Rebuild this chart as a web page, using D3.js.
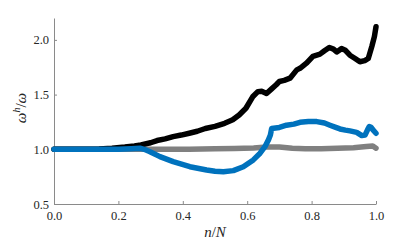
<!DOCTYPE html>
<html>
<head>
<meta charset="utf-8">
<script src="https://cdn.jsdelivr.net/npm/d3@7"></script>
<style>
  body { margin: 0; background: #fff; }
</style>
</head>
<body>
<div id="container"></div>
<script>
// values
const xTicks = [0, 0.2, 0.4, 0.6, 0.8, 1.0];
const yTicks = [0.5, 1.0, 1.5, 2.0];

const grayX = [0, 0.1, 0.2, 0.27, 0.35, 0.42, 0.5, 0.56, 0.62, 0.66, 0.7, 0.74, 0.78, 0.83, 0.88, 0.93, 0.97, 0.99, 1.0];
const grayY = [1.0, 1.0, 1.0, 1.0, 1.0, 1.0, 1.005, 1.008, 1.012, 1.02, 1.02, 1.01, 1.005, 1.006, 1.01, 1.015, 1.025, 1.03, 1.01];

const blackX = [0, 0.1, 0.14, 0.18, 0.22, 0.25, 0.27, 0.3, 0.32, 0.345, 0.37, 0.395, 0.42, 0.445, 0.47, 0.5, 0.53, 0.555, 0.575, 0.596, 0.617, 0.633, 0.645, 0.66, 0.675, 0.69, 0.70, 0.715, 0.733, 0.754, 0.764, 0.785, 0.804, 0.826, 0.84, 0.855, 0.868, 0.878, 0.893, 0.905, 0.919, 0.935, 0.95, 0.965, 0.976, 0.987, 0.995, 1.0];
const blackY = [1.0, 1.0, 1.003, 1.01, 1.02, 1.03, 1.04, 1.06, 1.08, 1.095, 1.116, 1.13, 1.147, 1.165, 1.19, 1.21, 1.238, 1.27, 1.314, 1.375, 1.48, 1.527, 1.53, 1.51, 1.55, 1.59, 1.62, 1.63, 1.65, 1.726, 1.74, 1.79, 1.85, 1.87, 1.9, 1.93, 1.915, 1.89, 1.92, 1.905, 1.86, 1.83, 1.80, 1.81, 1.83, 1.94, 2.03, 2.12];

const blueX = [0, 0.1, 0.2, 0.24, 0.267, 0.28, 0.298, 0.329, 0.37, 0.422, 0.474, 0.5, 0.526, 0.557, 0.588, 0.619, 0.64, 0.655, 0.666, 0.672, 0.676, 0.7, 0.722, 0.745, 0.764, 0.79, 0.816, 0.84, 0.857, 0.875, 0.888, 0.905, 0.919, 0.94, 0.956, 0.966, 0.974, 0.979, 0.985, 0.99, 1.0];
const blueY = [1.0, 1.0, 1.0, 1.005, 1.01, 1.0, 0.978, 0.933, 0.887, 0.841, 0.811, 0.80, 0.795, 0.805, 0.841, 0.903, 0.964, 1.024, 1.086, 1.13, 1.19, 1.2, 1.22, 1.23, 1.247, 1.255, 1.253, 1.24, 1.22, 1.2, 1.186, 1.175, 1.168, 1.155, 1.125, 1.13, 1.18, 1.207, 1.2, 1.18, 1.147];

const width = 415;
const height = 243;
const margin = {top: 18, right: 39, bottom: 39, left: 54};
const serif = "'Liberation Serif', 'DejaVu Serif', serif";

const svg = d3.select("#container")
  .append("svg")
  .attr("width", width)
  .attr("height", height);

const x = d3.scaleLinear().domain([0, 1]).range([margin.left, width - margin.right]);
const y = d3.scaleLinear().domain([0.5, 2.2]).range([height - margin.bottom, margin.top]);

// axes, ticks point inward like matlab
const xAxis = svg.append("g")
  .attr("transform", `translate(0,${height - margin.bottom})`)
  .call(d3.axisBottom(x).tickValues(xTicks).tickFormat(d3.format(".1f")).tickSizeInner(-3).tickSizeOuter(0).tickPadding(7));

const yAxis = svg.append("g")
  .attr("transform", `translate(${margin.left},0)`)
  .call(d3.axisLeft(y).tickValues(yTicks).tickFormat(d3.format(".1f")).tickSizeInner(-3).tickSizeOuter(0).tickPadding(5));

[xAxis, yAxis].forEach(g => {
  g.attr("font-family", serif).attr("font-size", 12.5);
  g.select(".domain").attr("stroke", "#8a8a8a").attr("stroke-width", 1);
  g.selectAll(".tick line").attr("stroke", "#8a8a8a");
  g.selectAll(".tick text").attr("fill", "#262626");
});

const line = d3.line()
  .x(d => x(d[0]))
  .y(d => y(d[1]));

const series = [
  {xs: grayX, ys: grayY, color: "#808080"},
  {xs: blackX, ys: blackY, color: "#000000"},
  {xs: blueX, ys: blueY, color: "#0072BD"}
];

series.forEach(s => {
  const pts = s.xs.map((v, i) => [v, s.ys[i]]);
  svg.append("path")
    .datum(pts)
    .attr("d", line)
    .attr("fill", "none")
    .attr("stroke", s.color)
    .attr("stroke-width", 5.5)
    .attr("stroke-linejoin", "round")
    .attr("stroke-linecap", "round");
});

// axis labels
const xl = svg.append("text")
  .attr("x", (margin.left + width - margin.right) / 2)
  .attr("y", 237)
  .attr("text-anchor", "middle")
  .attr("font-family", serif)
  .attr("font-size", 15)
  .attr("fill", "#262626");
xl.append("tspan").attr("font-style", "italic").text("n");
xl.append("tspan").text("/");
xl.append("tspan").attr("font-style", "italic").text("N");

const yl = svg.append("text")
  .attr("transform", `translate(26,108) rotate(-90)`)
  .attr("text-anchor", "middle")
  .attr("font-family", serif)
  .attr("font-size", 15)
  .attr("fill", "#262626");
yl.append("tspan").attr("font-style", "italic").text("ω");
yl.append("tspan").attr("font-style", "italic").attr("dy", -6).attr("font-size", 10).text("h");
yl.append("tspan").attr("dy", 6).text("/");
yl.append("tspan").attr("font-style", "italic").text("ω");
</script>
</body>
</html>
